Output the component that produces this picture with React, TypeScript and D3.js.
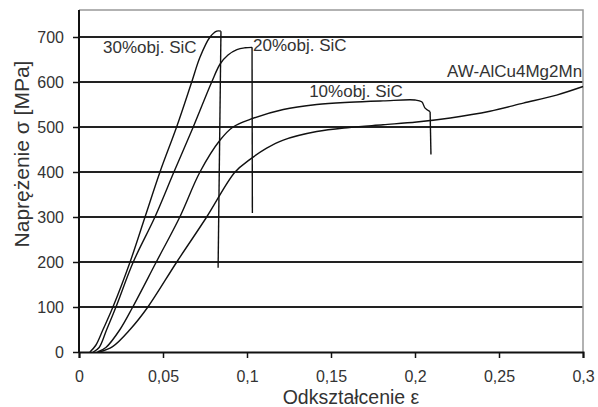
import React, { useRef, useEffect } from 'react';
import * as d3 from 'd3';

// strain / stress pairs
const strain30 = [0.0065, 0.01, 0.0143, 0.0202, 0.0304, 0.0393, 0.0482, 0.0581, 0.0671, 0.072, 0.078, 0.082, 0.0845];
const stress30 = [0, 15, 50, 100, 200, 300, 400, 500, 600, 655, 700, 713, 713];
const drop30 = [0.0828, 187];

const strain20 = [0.0085, 0.012, 0.0165, 0.022, 0.0323, 0.0452, 0.0565, 0.068, 0.079, 0.084, 0.0887, 0.094, 0.0988, 0.103];
const stress20 = [0, 10, 50, 100, 200, 300, 400, 500, 600, 640, 660, 672, 676, 677];
const drop20 = [0.1032, 309];

const strain10 = [0.011, 0.016, 0.0244, 0.032, 0.046, 0.06, 0.072, 0.084, 0.0917, 0.1018, 0.1216, 0.1415, 0.161, 0.181, 0.2, 0.204, 0.206, 0.209];
const stress10 = [0, 10, 50, 100, 200, 300, 400, 471, 500, 517, 539, 550, 555, 558, 560, 556, 542, 534];
const drop10 = [0.2095, 439];

const strain0 = [0.012, 0.02, 0.0304, 0.041, 0.0582, 0.076, 0.0929, 0.1018, 0.1117, 0.1216, 0.1415, 0.161, 0.181, 0.201, 0.221, 0.2446, 0.2645, 0.2843, 0.3];
const stress0 = [0, 12, 50, 100, 200, 300, 400, 428, 453, 471, 490, 499, 505, 511, 520, 535, 553, 571, 590];

const xTicks = [0, 0.05, 0.1, 0.15, 0.2, 0.25, 0.3];
const yTicks = [0, 100, 200, 300, 400, 500, 600, 700];

const labels = [
  { text: '30%obj. SiC', x: 0.0143, y: 665, anchor: 'start' },
  { text: '20%obj. SiC', x: 0.1036, y: 668, anchor: 'start' },
  { text: '10%obj. SiC', x: 0.137, y: 567, anchor: 'start' },
  { text: 'AW-AlCu4Mg2Mn', x: 0.2995, y: 611, anchor: 'end' },
];

const font = '"Liberation Sans", Arial, sans-serif';

const App = () => {
  const svgRef = useRef(null);
  const width = 598, height = 407;

  useEffect(() => {
    const svg = d3.select(svgRef.current);
    svg.selectAll('*').remove();

    const x = d3.scaleLinear().domain([0, 0.3]).range([79, 583]);
    const y = d3.scaleLinear().domain([0, 760]).range([352, 10]);

    // grid
    svg.append('g').selectAll('line')
      .data(yTicks.slice(1))
      .enter().append('line')
      .attr('x1', x(0)).attr('x2', x(0.3))
      .attr('y1', d => y(d)).attr('y2', d => y(d))
      .attr('stroke', '#222').attr('stroke-width', 2);

    // frame top / right
    svg.append('path')
      .attr('d', `M${x(0)},${y(760)}H${x(0.3)}V${y(0)}`)
      .attr('fill', 'none').attr('stroke', '#999').attr('stroke-width', 1.5);

    const xAxis = svg.append('g')
      .attr('transform', `translate(0,${y(0)})`)
      .call(d3.axisBottom(x).tickValues(xTicks).tickSize(6).tickPadding(13)
        .tickFormat(d => String(+(+d).toFixed(2)).replace('.', ',')));
    xAxis.select('.domain').attr('stroke', '#111').attr('stroke-width', 2);

    const yAxis = svg.append('g')
      .attr('transform', `translate(${x(0)},0)`)
      .call(d3.axisLeft(y).tickValues(yTicks).tickSize(6).tickPadding(9));
    yAxis.select('.domain').attr('d', `M0,${y(760)}V${y(0)}`).attr('stroke', '#111').attr('stroke-width', 2);

    svg.selectAll('.tick line').attr('stroke', '#111').attr('stroke-width', 1.5);
    svg.selectAll('.tick text').attr('fill', '#333').style('font-family', font).style('font-size', '16px');

    const line = d3.line<[number, number]>()
      .x(d => x(d[0])).y(d => y(d[1]))
      .curve(d3.curveCatmullRom.alpha(0.5));

    const series = [
      [strain30, stress30, drop30],
      [strain20, stress20, drop20],
      [strain10, stress10, drop10],
      [strain0, stress0, null],
    ];

    series.forEach(([xs, ys, drop]) => {
      const pts = (xs as number[]).map((v, i) => [v, (ys as number[])[i]] as [number, number]);
      svg.append('path').attr('d', line(pts))
        .attr('fill', 'none').attr('stroke', '#111').attr('stroke-width', 1.4);
      if (drop) {
        const last = pts[pts.length - 1];
        svg.append('line')
          .attr('x1', x(last[0])).attr('y1', y(last[1]))
          .attr('x2', x((drop as number[])[0])).attr('y2', y((drop as number[])[1]))
          .attr('stroke', '#111').attr('stroke-width', 1.4);
      }
    });

    svg.append('g').selectAll('text')
      .data(labels)
      .enter().append('text')
      .attr('x', d => x(d.x)).attr('y', d => y(d.y))
      .attr('text-anchor', d => d.anchor)
      .attr('fill', '#333')
      .style('font-family', font).style('font-size', '17px')
      .text(d => d.text);

    svg.append('text')
      .attr('x', 351).attr('y', 404)
      .attr('text-anchor', 'middle').attr('fill', '#333')
      .style('font-family', font).style('font-size', '19.5px')
      .text('Odkształcenie ε');

    svg.append('text')
      .attr('transform', 'translate(29,154) rotate(-90)')
      .attr('text-anchor', 'middle').attr('fill', '#333')
      .style('font-family', font).style('font-size', '21px')
      .text('Naprężenie σ [MPa]');
  }, []);

  return (
    <svg ref={svgRef} width={width} height={height}
      style={{ position: 'absolute', left: 0, top: 0, background: '#fff' }}></svg>
  );
};

export default App;
